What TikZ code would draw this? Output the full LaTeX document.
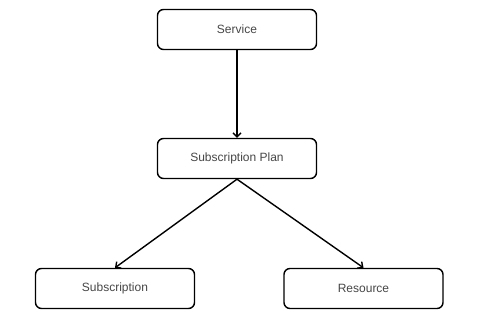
\documentclass[tikz,border=0pt]{standalone}
\usepackage{fontspec}
\setmainfont{Liberation Sans}
\usetikzlibrary{arrows.meta}
\begin{document}
\begin{tikzpicture}[x=1pt,y=-1pt,
  box/.style={draw=black, line width=1.4pt, rounded corners=6pt, fill=white,
    minimum width=159pt, minimum height=40pt, inner sep=0pt,
    text=black!72, font=\fontsize{12}{14}\selectfont},
  conn/.style={draw=black, line width=1.4pt, -{Straight Barb[length=4pt,width=8pt]}}]
\useasboundingbox (0,0) rectangle (480,320);
\node[box] (service) at (237,29.5) {Service};
\node[box] (plan) at (237,158.5) {Subscription Plan};
\node[box] (sub) at (115,288.5) {Subscription};
\node[box] (res) at (363.5,288.5) {Resource};
\draw[conn] (service) -- (plan);
\draw[conn] (plan.south) -- (sub.north);
\draw[conn] (plan.south) -- (res.north);
\end{tikzpicture}
\end{document}
